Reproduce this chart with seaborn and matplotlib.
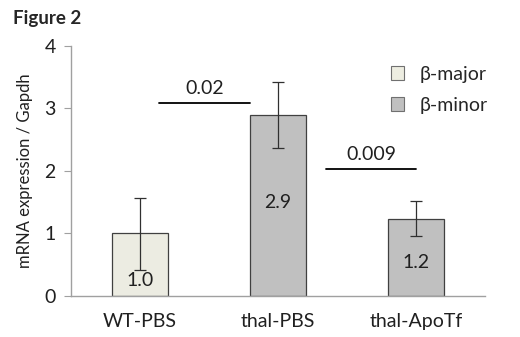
import matplotlib
matplotlib.use('Agg')
import matplotlib.pyplot as plt
from matplotlib.patches import Patch
import seaborn as sns
import pandas as pd

# data
groups = ['WT-PBS', 'thal-PBS', 'thal-ApoTf']
values = [1.0, 2.9, 1.23]
err_low = [0.42, 2.37, 0.96]
err_high = [1.57, 3.42, 1.52]
value_labels = ['1.0', '2.9', '1.2']
label_y = [0.24, 1.49, 0.53]
gene = ['β-major', 'β-minor', 'β-minor']
legend_names = ['β-major', 'β-minor']
colors = {'β-major': '#EDEDE1', 'β-minor': '#C0C0C0'}

# p-value lines: (x start, x end, y, label)
p_x0 = [0.14, 1.35]
p_x1 = [0.80, 2.00]
p_y = [3.09, 2.03]
p_text = ['0.02', '0.009']

sns.set_style('white')
plt.rcParams['font.family'] = ['Lato', 'DejaVu Sans']

df = pd.DataFrame({'group': groups, 'value': values, 'gene': gene})

fig = plt.figure(figsize=(5.2, 3.37), dpi=100)
ax = fig.add_axes([0.1365, 0.1217, 0.7962, 0.7418])

sns.barplot(data=df, x='group', y='value', hue='gene', palette=colors,
            dodge=False, width=0.4, edgecolor='#404040', linewidth=0.9,
            legend=False, ax=ax)

xs = range(len(groups))
lo = [v - l for v, l in zip(values, err_low)]
hi = [h - v for v, h in zip(values, err_high)]
ax.errorbar(list(xs), values, yerr=[lo, hi], fmt='none', ecolor='#303030',
            elinewidth=0.9, capsize=4, capthick=0.9)

for x, ty, t in zip(xs, label_y, value_labels):
    ax.text(x, ty, t, ha='center', va='center', fontsize=14, color='#202020')

for x0, x1, y, t in zip(p_x0, p_x1, p_y, p_text):
    ax.plot([x0, x1], [y, y], color='black', lw=1.3)
    ax.text((x0 + x1) / 2, y + 0.1, t, ha='center', va='bottom', fontsize=14, color='#202020')

ax.set_xlim(-0.5, 2.5)
ax.set_ylim(0, 4)
ax.set_yticks([0, 1, 2, 3, 4])
ax.set_xticks([0, 1, 2])
ax.set_xticklabels(groups)
ax.set_xticks([-0.5, 0.5, 1.5, 2.5], minor=True)
ax.tick_params(axis='x', which='major', length=0, labelsize=14, pad=12, colors='#202020')
ax.tick_params(axis='x', which='minor', length=5, color='#A0A0A0', direction='out')
ax.tick_params(axis='y', length=5, color='#A0A0A0', labelsize=14, colors='#202020', direction='out', left=True, pad=6)
ax.set_xlabel('')
ax.set_ylabel('mRNA expression / Gapdh', fontsize=12, color='#202020', labelpad=8)

for s in ['top', 'right']:
    ax.spines[s].set_visible(False)
for s in ['left', 'bottom']:
    ax.spines[s].set_color('#A0A0A0')
    ax.spines[s].set_linewidth(1)

handles = [Patch(facecolor=colors[n], edgecolor='#707070', linewidth=0.8) for n in legend_names]
ax.legend(handles, legend_names, loc='upper left', bbox_to_anchor=(0.73, 0.99),
          frameon=False, fontsize=14, handlelength=0.7, handleheight=0.7,
          handletextpad=0.8, labelspacing=0.7)

fig.text(0.025, 0.945, 'Figure 2', fontsize=13.5, fontweight='bold', ha='left', va='center')

fig.savefig('out.png', dpi=100)
